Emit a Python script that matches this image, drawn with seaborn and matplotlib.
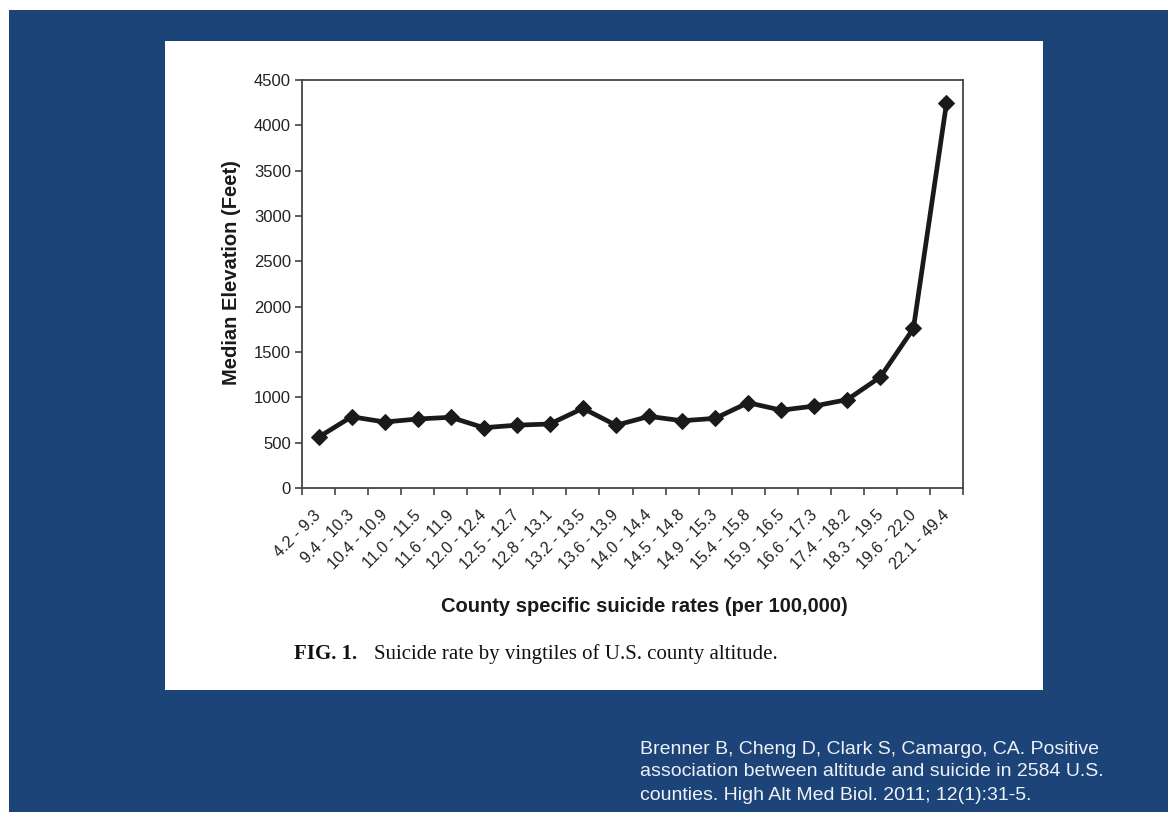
import matplotlib
matplotlib.use("Agg")
import matplotlib.pyplot as plt
import matplotlib.transforms as mtransforms
import seaborn as sns
import numpy as np
import pandas as pd
from matplotlib.patches import Rectangle

categories = ["4.2 - 9.3", "9.4 - 10.3", "10.4 - 10.9", "11.0 - 11.5", "11.6 - 11.9",
              "12.0 - 12.4", "12.5 - 12.7", "12.8 - 13.1", "13.2 - 13.5", "13.6 - 13.9",
              "14.0 - 14.4", "14.5 - 14.8", "14.9 - 15.3", "15.4 - 15.8", "15.9 - 16.5",
              "16.6 - 17.3", "17.4 - 18.2", "18.3 - 19.5", "19.6 - 22.0", "22.1 - 49.4"]
elevation = [560, 786, 728, 761, 780, 665, 693, 706, 879, 692,
             790, 742, 768, 941, 858, 904, 975, 1224, 1760, 4243]
y_ticks = [0, 500, 1000, 1500, 2000, 2500, 3000, 3500, 4000, 4500]

df = pd.DataFrame({"pos": np.arange(len(categories)) + 0.5, "elev": elevation})

sns.set_theme(style="white")
plt.rcParams["font.family"] = ["Liberation Sans", "DejaVu Sans"]

fig = plt.figure(figsize=(11.68, 8.18), dpi=100)
fig.patch.set_facecolor("white")
fig.add_artist(Rectangle((9/1168, 1-812/818), 1-9/1168, (812-10)/818,
                         transform=fig.transFigure, facecolor="#1c4479", edgecolor="none", zorder=-2))
fig.add_artist(Rectangle((165/1168, 1-690/818), (1043-165)/1168, (690-41)/818,
                         transform=fig.transFigure, facecolor="white", edgecolor="none", zorder=-1))

ax = fig.add_axes([302/1168, 1-488/818, (963-302)/1168, (488-80)/818])
ax.set_facecolor("white")
sns.lineplot(data=df, x="pos", y="elev", ax=ax, color="#1a1a1a", linewidth=3.4,
             marker="D", markersize=8.5, markeredgecolor="#1a1a1a", markerfacecolor="#1a1a1a")

ax.set_xlim(0, len(categories))
ax.set_ylim(0, 4500)
ax.set_yticks(y_ticks)
ax.set_yticklabels([str(v) for v in y_ticks], fontsize=12, color="#222222")
ax.set_xticks(np.arange(len(categories) + 1))
ax.set_xticklabels([])
ax.set_xticks(np.arange(len(categories)) + 0.5, minor=True)
ax.set_xticklabels(categories, minor=True, rotation=45, ha="right", va="top",
                   rotation_mode="anchor", fontsize=11.5, color="#222222")
ax.tick_params(axis="x", which="minor", length=0, pad=14)
ax.tick_params(axis="x", which="major", length=5, width=1.2, color="#444444", direction="out", bottom=True)
ax.tick_params(axis="y", length=5, width=1.2, color="#444444", direction="out", left=True, pad=3)
shift = mtransforms.ScaledTranslation(-5/100, 0, fig.dpi_scale_trans)
for lab in ax.get_xticklabels(minor=True):
    lab.set_transform(lab.get_transform() + shift)
for s in ax.spines.values():
    s.set_visible(True)
    s.set_color("#444444")
    s.set_linewidth(1.3)

ax.set_xlabel("")
ax.set_ylabel("")
fig.text(231/1168, 1-273/818, "Median Elevation (Feet)", rotation=90, ha="center", va="center",
         fontsize=14.5, fontweight="bold", color="#1a1a1a")
fig.text(644/1168, 1-606/818, "County specific suicide rates (per 100,000)", ha="center", va="center",
         fontsize=14.5, fontweight="bold", color="#1a1a1a")

fig.text(294/1168, 1-654/818, "FIG. 1.", ha="left", va="center", fontsize=15,
         fontweight="bold", family=["Liberation Serif", "DejaVu Serif"], color="#111111")
fig.text(374/1168, 1-654/818, "Suicide rate by vingtiles of U.S. county altitude.", ha="left", va="center",
         fontsize=15, family=["Liberation Serif", "DejaVu Serif"], color="#111111")

cite = ["Brenner B, Cheng D, Clark S, Camargo, CA. Positive",
        "association between altitude and suicide in 2584 U.S.",
        "counties. High Alt Med Biol. 2011; 12(1):31-5."]
for i, line in enumerate(cite):
    fig.text(640/1168, 1-(749 + 23*i)/818, line, ha="left", va="center", fontsize=14, color="#eef1f6")

fig.savefig("out.png", dpi=100)
